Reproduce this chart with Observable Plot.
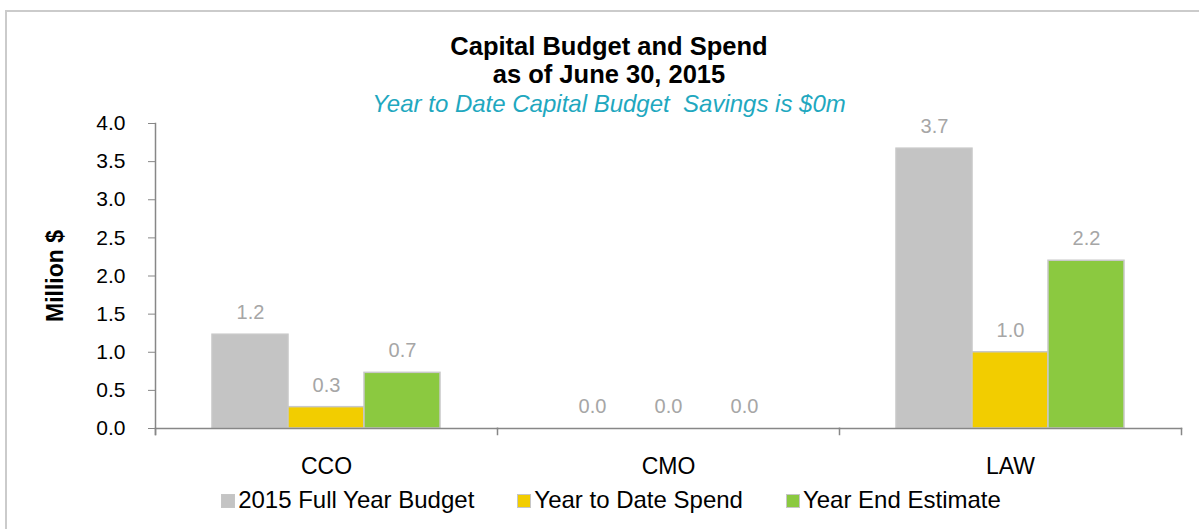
<!DOCTYPE html>
<html>
<head>
<meta charset="utf-8">
<script src="https://cdn.jsdelivr.net/npm/d3@7"></script>
<script src="https://cdn.jsdelivr.net/npm/@observablehq/plot@0.6"></script>
<style>
  html, body { margin: 0; padding: 0; background: #fff; overflow: hidden; }
  body { width: 1199px; height: 529px; position: relative; font-family: "Liberation Sans", Arial, sans-serif; }
  #frame { position: absolute; left: 5px; top: 10px; width: 1194px; height: 519px; border-top: 2px solid #cbcbcb; border-left: 2px solid #cbcbcb; box-sizing: border-box; }
  .t { position: absolute; left: 0; width: 1218px; text-align: center; line-height: 1; white-space: pre; }
  #t1 { top: 34px; font-size: 25.5px; font-weight: bold; color: #000; }
  #t2 { top: 62px; font-size: 25.5px; font-weight: bold; color: #000; }
  #t3 { top: 92px; font-size: 24px; font-style: italic; color: #1fa8bf; }
  #chart { position: absolute; left: 0; top: 112px; }
  #legend { position: absolute; left: 0; top: 488px; width: 1222px; display: flex; justify-content: center; gap: 43px; font-size: 24px; line-height: 1; color: #000; }
  .item { display: flex; align-items: center; white-space: nowrap; }
  .sw { width: 12px; height: 12px; border: 1px solid #c6c6c6; margin-right: 3px; margin-top: 2px; }
  g[aria-label="y-axis label"] { font-weight: bold; font-size: 23px; }
</style>
</head>
<body>
<div id="frame"></div>
<div class="t" id="t1"></div>
<div class="t" id="t2"></div>
<div class="t" id="t3"></div>
<div id="chart"></div>
<div id="legend"></div>
<script>
const titleLines = ["Capital Budget and Spend", "as of June 30, 2015"];
const subtitle = "Year to Date Capital Budget  Savings is $0m";
const categories = ["CCO", "CMO", "LAW"];
const series = ["2015 Full Year Budget", "Year to Date Spend", "Year End Estimate"];
const budget = [1.23, 0.0, 3.67];
const ytdSpend = [0.28, 0.0, 1.0];
const yearEndEstimate = [0.73, 0.0, 2.2];
const colors = ["#c4c4c4", "#f2cd00", "#8bc940"];
const yTicks = [0.0, 0.5, 1.0, 1.5, 2.0, 2.5, 3.0, 3.5, 4.0];
const yLabel = "Million $";

document.getElementById("t1").textContent = titleLines[0];
document.getElementById("t2").textContent = titleLines[1];
document.getElementById("t3").textContent = subtitle;

const seriesValues = [budget, ytdSpend, yearEndEstimate];
const data = [];
categories.forEach((c, i) => {
  series.forEach((s, j) => data.push({cat: c, series: s, value: seriesValues[j][i]}));
});

const axisGray = "#878787";
const plot = Plot.plot({
  width: 1199,
  height: 368,
  marginTop: 11,
  marginBottom: 52,
  marginLeft: 155,
  marginRight: 18,
  style: {fontFamily: "'Liberation Sans', Arial, sans-serif", background: "transparent", overflow: "visible"},
  fx: {domain: categories, padding: 0, label: null},
  x: {domain: series, paddingInner: 0, paddingOuter: 0.74, axis: null},
  y: {domain: [0, 4]},
  color: {domain: series, range: colors},
  marks: [
    Plot.barY(data, {fx: "cat", x: "series", y: "value", fill: "series", stroke: "#c8c8c8", strokeWidth: 1.5}),
    Plot.text(data, {fx: "cat", x: "series", y: "value", text: d => d.value.toFixed(1), dy: -22, fill: "#a6a6a6", fontSize: 20}),
    Plot.frame({anchor: "bottom", stroke: axisGray, strokeWidth: 1.5}),
    Plot.frame({anchor: "left", facetAnchor: "left", insetBottom: -6, stroke: axisGray, strokeWidth: 1.5}),
    Plot.frame({anchor: "left", insetTop: 305, insetBottom: -6, stroke: axisGray, strokeWidth: 1.5}),
    Plot.frame({anchor: "right", facetAnchor: "right", insetTop: 305, insetBottom: -6, stroke: axisGray, strokeWidth: 1.5}),
    Plot.axisY({ticks: yTicks, tickFormat: d => d.toFixed(1), tickSize: 7, tickPadding: 23, stroke: axisGray, fill: "#000", fontSize: 21,
      label: yLabel, labelAnchor: "center", labelArrow: "none", labelOffset: 109}),
    Plot.axisFx({anchor: "bottom", tickSize: 0, tickPadding: 29, fontSize: 23, fill: "#000", label: null})
  ]
});
document.getElementById("chart").appendChild(plot);

const legend = document.getElementById("legend");
series.forEach((s, j) => {
  const item = document.createElement("div");
  item.className = "item";
  const sw = document.createElement("span");
  sw.className = "sw";
  sw.style.background = colors[j];
  const lab = document.createElement("span");
  lab.textContent = s;
  item.appendChild(sw);
  item.appendChild(lab);
  legend.appendChild(item);
});
</script>
</body>
</html>
